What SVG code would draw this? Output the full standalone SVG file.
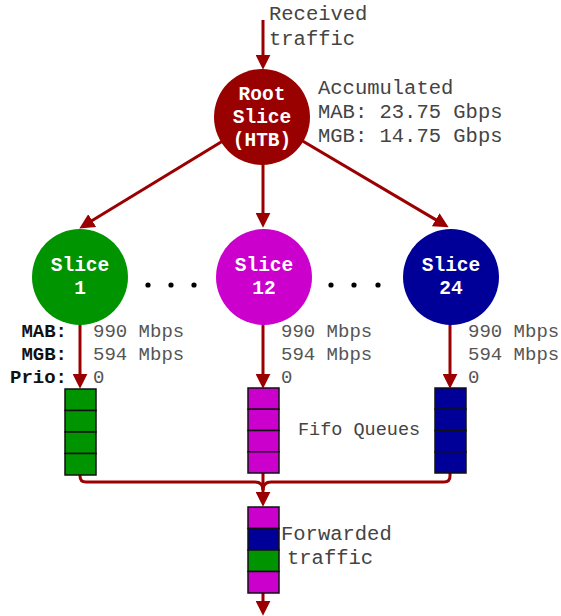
<svg xmlns="http://www.w3.org/2000/svg" width="561" height="616" viewBox="0 0 561 616">
<defs>
<marker id="ah" markerUnits="userSpaceOnUse" markerWidth="15" markerHeight="15" viewBox="0 0 14 14" refX="4" refY="7" orient="auto">
<path d="M0,0 L14,7 L0,14 z" fill="#9b0000"/>
</marker>
<style>
.ln{stroke:#9b0000;stroke-width:3;fill:none}
.mono{font-family:"Liberation Mono","DejaVu Sans Mono",monospace}
.lbl{font-family:"Liberation Mono","DejaVu Sans Mono",monospace;fill:#444}
.ntx{font-family:"Liberation Mono","DejaVu Sans Mono",monospace;font-weight:bold;fill:#fff;font-size:19.5px;text-anchor:middle}
.key{font-family:"Liberation Mono","DejaVu Sans Mono",monospace;font-weight:bold;fill:#111;font-size:19px;text-anchor:end}
.val{font-family:"Liberation Mono","DejaVu Sans Mono",monospace;fill:#555;font-size:19px}
.cell{stroke:#111;stroke-width:1.5}
.g{fill:#009400}.m{fill:#cc00cc}.b{fill:#000099}
</style>
</defs>
<g id="connectors">
<line class="ln" x1="263" y1="20" x2="263" y2="59" marker-end="url(#ah)"/>
<line class="ln" x1="262" y1="117" x2="88.5" y2="222.8" marker-end="url(#ah)"/>
<line class="ln" x1="263" y1="117" x2="263" y2="217" marker-end="url(#ah)"/>
<line class="ln" x1="262" y1="117" x2="439.4" y2="221.9" marker-end="url(#ah)"/>
<line class="ln" x1="80" y1="300" x2="80" y2="378" marker-end="url(#ah)"/>
<line class="ln" x1="263" y1="300" x2="263" y2="378" marker-end="url(#ah)"/>
<line class="ln" x1="450" y1="300" x2="450" y2="378" marker-end="url(#ah)"/>
<path class="ln" d="M80,475 L80,476 Q80,482 86,482 L255,482 Q263,482 263,490"/>
<path class="ln" d="M450,473 L450,476 Q450,482 444,482 L271,482 Q263,482 263,490"/>
<line class="ln" x1="263" y1="473" x2="263" y2="496" marker-end="url(#ah)"/>
<line class="ln" x1="263" y1="593" x2="263" y2="605" marker-end="url(#ah)"/>
</g>
<g id="received-label">
<text class="lbl" font-size="20.5" x="269" y="20">Received</text>
<text class="lbl" font-size="20.5" x="269" y="45">traffic</text>
</g>
<g id="root">
<circle cx="262" cy="117" r="48" fill="#990000"/>
<text class="ntx" x="262" y="100">Root</text>
<text class="ntx" x="262" y="123">Slice</text>
<text class="ntx" x="262" y="146">(HTB)</text>
</g>
<g id="root-label">
<text class="lbl" font-size="20.5" x="318" y="94">Accumulated</text>
<text class="lbl" font-size="20.5" x="318" y="118">MAB: 23.75 Gbps</text>
<text class="lbl" font-size="20.5" x="318" y="142">MGB: 14.75 Gbps</text>
</g>
<g id="slice1">
<circle cx="80" cy="277" r="48" fill="#009400"/>
<text class="ntx" x="80" y="271">Slice</text>
<text class="ntx" x="80" y="294">1</text>
</g>
<g id="slice12">
<circle cx="264" cy="277" r="48" fill="#cc00cc"/>
<text class="ntx" x="264" y="271">Slice</text>
<text class="ntx" x="264" y="294">12</text>
</g>
<g id="slice24">
<circle cx="451" cy="277" r="48" fill="#000099"/>
<text class="ntx" x="451" y="271">Slice</text>
<text class="ntx" x="451" y="294">24</text>
</g>
<g id="dots" fill="#000">
<circle cx="148" cy="285" r="2.6"/><circle cx="171" cy="285" r="2.6"/><circle cx="194" cy="285" r="2.6"/>
<circle cx="331" cy="285" r="2.6"/><circle cx="354" cy="285" r="2.6"/><circle cx="378" cy="285" r="2.6"/>
</g>
<g id="keys">
<text class="key" x="67" y="337">MAB:</text>
<text class="key" x="67" y="360">MGB:</text>
<text class="key" x="67" y="383">Prio:</text>
</g>
<g id="values">
<text class="val" x="93" y="337">990 Mbps</text>
<text class="val" x="93" y="360">594 Mbps</text>
<text class="val" x="93" y="383">0</text>
<text class="val" x="281" y="337">990 Mbps</text>
<text class="val" x="281" y="360">594 Mbps</text>
<text class="val" x="281" y="383">0</text>
<text class="val" x="468" y="337">990 Mbps</text>
<text class="val" x="468" y="360">594 Mbps</text>
<text class="val" x="468" y="383">0</text>
</g>
<g id="queue1">
<rect class="cell g" x="65" y="389" width="31" height="21.5"/>
<rect class="cell g" x="65" y="410.5" width="31" height="21.5"/>
<rect class="cell g" x="65" y="432" width="31" height="21.5"/>
<rect class="cell g" x="65" y="453.5" width="31" height="21.5"/>
</g>
<g id="queue12">
<rect class="cell m" x="248" y="388" width="31" height="21.25"/>
<rect class="cell m" x="248" y="409.25" width="31" height="21.25"/>
<rect class="cell m" x="248" y="430.5" width="31" height="21.25"/>
<rect class="cell m" x="248" y="451.75" width="31" height="21.25"/>
</g>
<g id="queue24">
<rect class="cell b" x="435" y="388" width="31" height="21.25"/>
<rect class="cell b" x="435" y="409.25" width="31" height="21.25"/>
<rect class="cell b" x="435" y="430.5" width="31" height="21.25"/>
<rect class="cell b" x="435" y="451.75" width="31" height="21.25"/>
</g>
<g id="fifo-label">
<text class="lbl" font-size="18.5" x="298" y="435">Fifo Queues</text>
</g>
<g id="output-queue">
<rect class="cell m" x="248" y="507" width="31" height="21.5"/>
<rect class="cell b" x="248" y="528.5" width="31" height="21.5"/>
<rect class="cell g" x="248" y="550" width="31" height="21.5"/>
<rect class="cell m" x="248" y="571.5" width="31" height="21.5"/>
</g>
<g id="forwarded-label">
<text class="lbl" font-size="20.5" x="281" y="540">Forwarded</text>
<text class="lbl" font-size="20.5" x="287" y="564">traffic</text>
</g>
</svg>
